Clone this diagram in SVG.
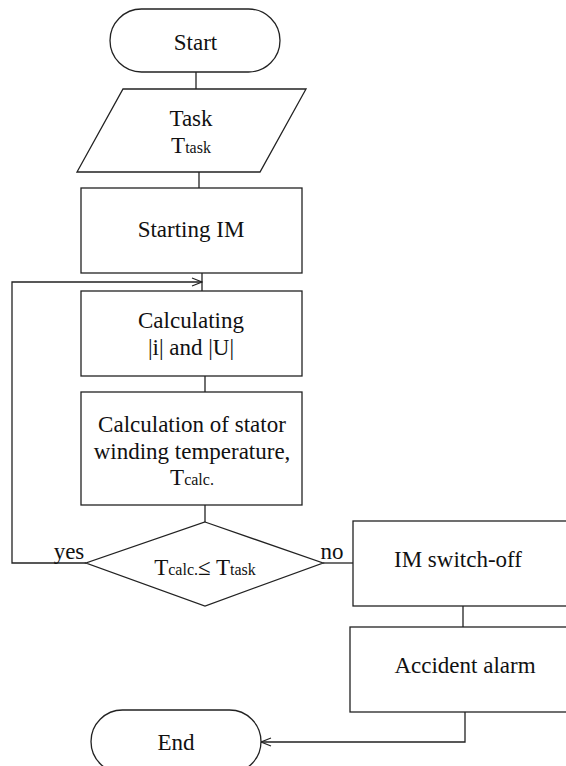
<svg xmlns="http://www.w3.org/2000/svg" width="566" height="766" viewBox="0 0 566 766" font-family="'Liberation Serif', 'Times New Roman', 'DejaVu Serif', serif">
<style>
.s{fill:#fff;stroke:#222;stroke-width:1.3}
.c{fill:none;stroke:#222;stroke-width:1.3}
.t{font-family:'Liberation Serif','Times New Roman','DejaVu Serif',serif;font-size:23px;fill:#111;text-anchor:middle}
.sub{font-size:16px}
</style>
<defs>
<marker id="arr" markerWidth="12" markerHeight="10" refX="11" refY="5" orient="auto" markerUnits="userSpaceOnUse">
<path d="M1,1 L11,5 L1,9" fill="none" stroke="#222" stroke-width="1.2"/>
</marker>
</defs>
<g id="connectors">
<line class="c" x1="196" y1="72" x2="196" y2="89"/>
<line class="c" x1="199" y1="172" x2="199" y2="188"/>
<line class="c" x1="202" y1="273" x2="202" y2="291"/>
<line class="c" x1="205" y1="376" x2="205" y2="392"/>
<line class="c" x1="205" y1="505" x2="205" y2="522"/>
<polyline class="c" points="86,563 12,563 12,282 202,282" marker-end="url(#arr)"/>
<line class="c" x1="323" y1="563" x2="353" y2="563"/>
<line class="c" x1="463" y1="606" x2="463" y2="627"/>
<polyline class="c" points="465,712 465,742 261,742" marker-end="url(#arr)"/>
<text class="t" x="69" y="559">yes</text>
<text class="t" x="332" y="559">no</text>
</g>
<g id="start">
<rect class="s" x="110" y="9" width="170" height="63" rx="31.5" ry="31.5"/>
<text class="t" x="195.5" y="50">Start</text>
</g>
<g id="task">
<polygon class="s" points="123,89 306,89 260,172 77,172"/>
<text class="t" x="191" y="126">Task</text>
<text class="t" x="191" y="153">T<tspan class="sub">task</tspan></text>
</g>
<g id="starting">
<rect class="s" x="81" y="188" width="221" height="85"/>
<text class="t" x="191" y="237">Starting IM</text>
</g>
<g id="calculating">
<rect class="s" x="81" y="291" width="221" height="85"/>
<text class="t" x="191" y="328">Calculating</text>
<text class="t" x="191" y="355">|i| and |U|</text>
</g>
<g id="calculation">
<rect class="s" x="81" y="392" width="221" height="113"/>
<text class="t" x="192" y="432">Calculation of stator</text>
<text class="t" x="192" y="459">winding temperature,</text>
<text class="t" x="192" y="485">T<tspan class="sub">calc.</tspan></text>
</g>
<g id="decision">
<polygon class="s" points="205,522 323,563 205,606 86,563"/>
<text class="t" x="205" y="575">T<tspan class="sub">calc.</tspan>≤ T<tspan class="sub">task</tspan></text>
</g>
<g id="switchoff">
<rect class="s" x="353" y="521" width="225" height="85"/>
<text class="t" x="458" y="567">IM switch-off</text>
</g>
<g id="alarm">
<rect class="s" x="350" y="627" width="230" height="85"/>
<text class="t" x="465" y="673">Accident alarm</text>
</g>
<g id="end">
<rect class="s" x="91" y="710" width="170" height="63" rx="31.5" ry="31.5"/>
<text class="t" x="176" y="750">End</text>
</g>
</svg>
